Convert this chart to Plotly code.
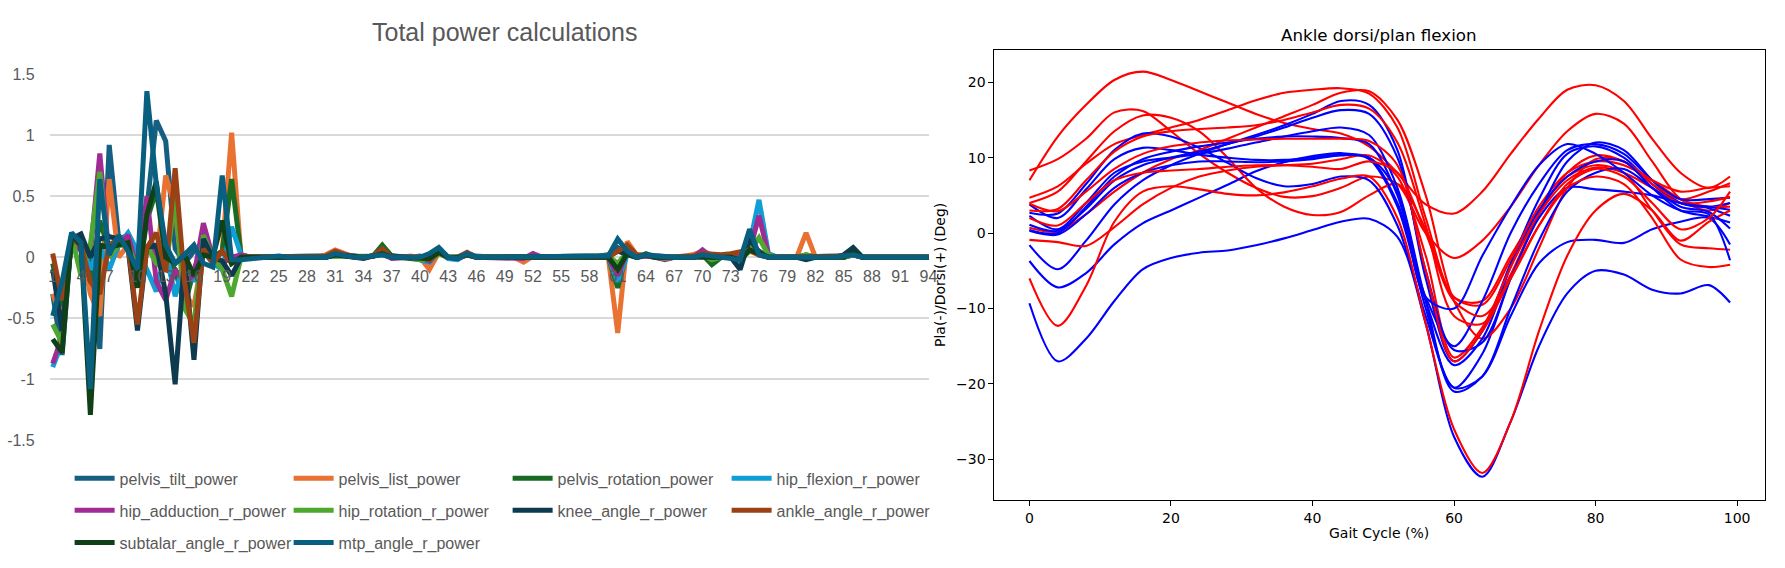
import plotly.graph_objects as go

W, H = 1785, 568

# ---------------- Left chart data (Excel style) ----------------
CATEGORIES = list(range(1, 101))
X_TICK_START = 1
X_TICK_STEP = 3
Y_TICK_VALUES = [-1.5, -1, -0.5, 0, 0.5, 1, 1.5]
Y_TICK_LABELS = ["-1.5", "-1", "-0.5", "0", "0.5", "1", "1.5"]

pelvis_tilt_power = [
    -0.30, -0.80, 0.18, 0.15, -0.05, -0.75, 0.92, 0.15, 0.18, -0.10,
    0.40, 1.12, 0.95, 0.07, -0.05, 0.05, 0.10, 0.00, -0.05, 0.00,
    0.00, 0.00, 0.00, 0.00, 0.01, 0.00, 0.00, 0.00, 0.00, 0.01,
    0.03, 0.02, 0.00, 0.00, 0.01, 0.03, 0.01, 0.00, 0.00, 0.01,
    -0.01, 0.05, 0.00, -0.01, 0.02, 0.00, 0.00, 0.00, 0.00, 0.00,
    0.00, 0.01, 0.00, 0.00, 0.01, 0.00, 0.00, 0.00, 0.01, 0.02,
    0.08, 0.03, 0.00, 0.02, 0.01, 0.00, 0.00, 0.00, 0.01, 0.03,
    0.00, 0.01, 0.00, -0.03, 0.10, 0.05, 0.00, 0.00, 0.00, 0.00,
    0.00, 0.00, 0.00, 0.00, 0.01, 0.02, 0.00, 0.00, 0.00, 0.00,
    0.00, 0.00, 0.00, 0.00, 0.00, 0.00, 0.00, 0.00, 0.00, 0.00,
]
pelvis_list_power = [
    -0.30, -0.50, 0.15, 0.10, -0.30, -0.48, 0.64, 0.00, 0.10, -0.20,
    0.10, -0.05, 0.67, 0.40, -0.30, -0.40, 0.05, 0.00, 0.05, 1.02,
    0.00, 0.00, 0.00, 0.00, 0.00, 0.01, 0.00, 0.00, 0.00, 0.02,
    0.06, 0.03, 0.00, 0.00, 0.01, 0.06, 0.00, 0.00, 0.01, 0.00,
    -0.10, 0.04, 0.00, -0.01, 0.03, 0.00, 0.00, 0.00, 0.00, 0.00,
    -0.04, 0.01, 0.00, 0.00, 0.00, 0.00, 0.00, 0.00, 0.00, 0.00,
    -0.62, 0.13, 0.02, 0.02, 0.01, -0.01, 0.00, 0.00, 0.02, 0.05,
    0.02, 0.01, 0.00, 0.02, 0.05, 0.02, 0.00, 0.00, 0.00, 0.00,
    0.20, 0.00, 0.00, 0.00, 0.00, 0.02, 0.00, 0.00, 0.00, 0.00,
    0.00, 0.00, 0.00, 0.00, 0.00, 0.00, 0.00, 0.00, 0.00, 0.00,
]
pelvis_rotation_power = [
    -0.05, -0.40, 0.18, 0.10, -0.20, 0.30, 0.05, 0.10, 0.10, -0.20,
    0.30, 0.55, 0.00, -0.10, -0.40, -0.10, 0.10, 0.00, 0.05, 0.64,
    0.02, 0.00, 0.00, 0.00, 0.00, 0.01, 0.00, 0.00, 0.00, 0.00,
    0.02, 0.01, 0.00, 0.00, 0.01, 0.10, 0.01, 0.00, 0.00, -0.02,
    -0.03, 0.05, 0.00, 0.00, 0.03, 0.00, 0.00, 0.00, 0.00, 0.00,
    0.00, 0.00, 0.00, 0.00, 0.00, 0.00, 0.00, 0.00, 0.00, 0.00,
    -0.25, 0.05, 0.00, 0.03, 0.00, -0.01, 0.00, 0.00, 0.00, 0.02,
    -0.06, 0.00, 0.00, 0.00, 0.08, 0.05, 0.00, 0.00, 0.00, 0.00,
    0.02, 0.00, 0.00, 0.00, 0.00, 0.03, 0.00, 0.00, 0.00, 0.00,
    0.00, 0.00, 0.00, 0.00, 0.00, 0.00, 0.00, 0.00, 0.00, 0.00,
]
hip_flexion_r_power = [
    -0.90, -0.70, 0.18, 0.12, -0.10, 0.10, -0.10, 0.10, 0.20, 0.05,
    -0.10, -0.28, 0.05, -0.32, 0.00, -0.20, 0.05, -0.05, -0.10, 0.25,
    0.02, 0.00, 0.00, 0.00, 0.01, 0.00, 0.00, 0.00, 0.00, 0.00,
    0.02, 0.01, 0.00, 0.00, 0.01, 0.02, 0.00, 0.00, 0.00, -0.02,
    -0.04, 0.04, -0.01, -0.02, 0.03, 0.01, 0.00, 0.00, 0.00, 0.00,
    0.00, 0.00, 0.00, 0.00, 0.00, 0.00, 0.00, 0.00, 0.00, 0.00,
    -0.20, 0.02, 0.00, 0.01, 0.00, -0.01, 0.00, 0.00, 0.00, 0.02,
    0.00, 0.00, 0.00, -0.05, 0.10, 0.47, 0.03, 0.00, 0.00, 0.00,
    0.00, 0.00, 0.00, 0.00, 0.00, 0.02, 0.00, 0.00, 0.00, 0.00,
    0.00, 0.00, 0.00, 0.00, 0.00, 0.00, 0.00, 0.00, 0.00, 0.00,
]
hip_adduction_r_power = [
    -0.87, -0.65, 0.15, 0.05, 0.03, 0.85, 0.00, 0.10, 0.18, -0.10,
    0.50, -0.20, -0.35, -0.10, -0.20, -0.15, 0.28, 0.00, -0.05, 0.00,
    0.02, 0.00, 0.00, 0.00, 0.00, 0.00, 0.00, 0.00, 0.00, 0.00,
    0.03, 0.02, 0.00, 0.00, 0.01, 0.03, -0.01, 0.00, 0.00, -0.01,
    -0.03, 0.04, 0.00, -0.01, 0.02, 0.00, 0.00, 0.00, 0.00, 0.00,
    -0.01, 0.03, 0.00, 0.00, 0.00, 0.00, 0.00, 0.00, 0.00, 0.00,
    -0.15, 0.05, 0.00, 0.01, 0.00, -0.02, 0.00, 0.00, 0.00, 0.06,
    0.00, 0.00, 0.00, 0.00, 0.05, 0.34, 0.02, 0.00, 0.00, 0.00,
    0.00, 0.00, 0.00, 0.00, 0.00, 0.02, 0.00, 0.00, 0.00, 0.00,
    0.00, 0.00, 0.00, 0.00, 0.00, 0.00, 0.00, 0.00, 0.00, 0.00,
]
hip_rotation_r_power = [
    -0.55, -0.70, 0.18, -0.15, 0.10, 0.70, 0.00, 0.10, 0.10, -0.10,
    0.10, -0.05, -0.10, 0.50, -0.42, -0.55, 0.18, 0.00, -0.10, -0.32,
    0.00, 0.00, 0.00, 0.00, 0.00, 0.00, 0.00, 0.00, 0.00, 0.00,
    0.01, 0.01, 0.00, 0.00, 0.01, 0.04, 0.00, 0.00, 0.00, -0.02,
    -0.02, 0.03, 0.00, 0.00, 0.02, 0.00, 0.00, 0.00, 0.00, 0.00,
    0.00, 0.00, 0.00, 0.00, 0.00, 0.00, 0.00, 0.00, 0.00, 0.01,
    -0.05, 0.04, 0.00, 0.02, 0.00, -0.01, 0.00, 0.00, 0.00, 0.02,
    -0.02, 0.00, 0.00, -0.02, 0.05, 0.16, 0.02, 0.00, 0.00, 0.00,
    0.02, 0.00, 0.00, 0.00, 0.00, 0.02, 0.00, 0.00, 0.00, 0.00,
    0.00, 0.00, 0.00, 0.00, 0.00, 0.00, 0.00, 0.00, 0.00, 0.00,
]
knee_angle_r_power = [
    -0.10, -0.60, 0.15, 0.19, 0.00, 0.15, 0.17, 0.15, 0.08, -0.60,
    0.08, 0.10, -0.30, -1.04, 0.00, -0.84, 0.15, 0.00, -0.03, -0.15,
    0.00, 0.00, 0.00, 0.00, 0.01, 0.00, 0.00, 0.00, 0.00, 0.00,
    0.02, 0.01, 0.00, -0.01, 0.01, 0.05, 0.01, 0.00, 0.00, 0.00,
    -0.02, 0.06, 0.00, -0.01, 0.03, 0.00, 0.00, 0.00, 0.00, 0.00,
    0.00, 0.00, 0.00, 0.00, 0.00, 0.00, 0.00, 0.00, 0.00, 0.01,
    0.05, 0.03, 0.00, 0.02, 0.00, 0.00, 0.00, 0.00, 0.00, 0.02,
    0.00, 0.00, 0.00, -0.10, 0.15, 0.04, 0.00, 0.00, 0.00, 0.00,
    -0.02, 0.00, 0.00, 0.00, 0.02, 0.08, 0.00, 0.00, 0.00, 0.00,
    0.00, 0.00, 0.00, 0.00, 0.00, 0.00, 0.00, 0.00, 0.00, 0.00,
]
ankle_angle_r_power = [
    0.03, -0.35, 0.15, 0.10, -0.20, -0.30, 0.10, 0.15, 0.10, -0.55,
    0.08, 0.20, -0.12, 0.73, -0.20, -0.70, 0.07, -0.05, 0.05, -0.05,
    0.00, 0.00, 0.00, 0.00, 0.00, 0.01, 0.00, 0.00, 0.00, 0.01,
    0.05, 0.02, 0.00, 0.00, 0.01, 0.07, 0.00, 0.00, 0.00, 0.00,
    -0.02, 0.04, 0.00, 0.00, 0.04, 0.00, 0.00, 0.00, 0.00, 0.00,
    0.00, 0.01, 0.00, 0.00, 0.00, 0.00, 0.00, 0.00, 0.00, 0.00,
    0.05, 0.10, 0.02, 0.01, 0.00, 0.00, 0.00, 0.00, 0.01, 0.03,
    0.02, 0.02, 0.03, 0.05, 0.06, 0.02, 0.00, 0.00, 0.00, 0.00,
    0.00, 0.00, 0.00, 0.00, 0.01, 0.03, 0.00, 0.00, 0.00, 0.00,
    0.00, 0.00, 0.00, 0.00, 0.00, 0.00, 0.00, 0.00, 0.00, 0.00,
]
subtalar_angle_r_power = [
    -0.67, -0.78, 0.18, 0.10, -1.29, 0.10, 0.08, 0.10, 0.12, -0.25,
    0.35, 0.62, 0.00, -0.05, 0.02, -0.15, 0.02, 0.00, 0.30, -0.05,
    0.00, 0.00, 0.00, 0.00, 0.00, 0.00, 0.00, 0.00, 0.00, 0.00,
    0.02, 0.01, 0.00, 0.00, 0.01, 0.03, 0.00, 0.00, 0.00, 0.00,
    -0.01, 0.04, 0.00, 0.00, 0.02, 0.00, 0.00, 0.00, 0.00, 0.00,
    0.00, 0.00, 0.00, 0.00, 0.00, 0.00, 0.00, 0.00, 0.00, 0.00,
    -0.10, 0.03, 0.00, 0.02, 0.00, 0.00, 0.00, 0.00, 0.00, 0.01,
    0.00, 0.00, 0.00, -0.02, 0.06, 0.03, 0.00, 0.00, 0.00, 0.00,
    0.00, 0.00, 0.00, 0.00, 0.00, 0.04, 0.00, 0.00, 0.00, 0.00,
    0.00, 0.00, 0.00, 0.00, 0.00, 0.00, 0.00, 0.00, 0.00, 0.00,
]
mtp_angle_r_power = [
    -0.48, -0.20, 0.20, 0.12, -1.08, 0.64, 0.02, 0.18, 0.05, -0.10,
    1.36, 0.60, 0.10, -0.05, 0.02, 0.10, -0.05, -0.08, 0.67, -0.02,
    -0.02, -0.01, -0.01, 0.00, 0.01, 0.00, 0.00, 0.00, 0.00, 0.00,
    0.03, 0.01, 0.00, 0.00, 0.01, 0.02, 0.00, 0.00, 0.01, 0.00,
    0.03, 0.08, 0.00, -0.01, 0.03, 0.00, 0.00, 0.00, 0.00, 0.00,
    0.00, 0.00, 0.00, 0.00, 0.01, 0.00, 0.00, 0.00, 0.00, 0.01,
    0.15, 0.05, 0.00, 0.02, 0.01, 0.00, 0.00, 0.00, 0.00, 0.02,
    0.01, 0.00, 0.00, -0.02, 0.23, 0.02, 0.00, 0.00, 0.00, 0.00,
    -0.01, 0.00, 0.00, 0.00, 0.01, 0.02, 0.00, 0.00, 0.00, 0.00,
    0.00, 0.00, 0.00, 0.00, 0.00, 0.00, 0.00, 0.00, 0.00, 0.00,
]

SERIES_NAMES = [
    "pelvis_tilt_power", "pelvis_list_power", "pelvis_rotation_power", "hip_flexion_r_power",
    "hip_adduction_r_power", "hip_rotation_r_power", "knee_angle_r_power", "ankle_angle_r_power",
    "subtalar_angle_r_power", "mtp_angle_r_power",
]
SERIES_VALUES = [
    pelvis_tilt_power, pelvis_list_power, pelvis_rotation_power, hip_flexion_r_power,
    hip_adduction_r_power, hip_rotation_r_power, knee_angle_r_power, ankle_angle_r_power,
    subtalar_angle_r_power, mtp_angle_r_power,
]
SERIES_COLORS = [
    "#156082", "#E97132", "#196B24", "#0F9ED5", "#A02B93",
    "#4EA72E", "#0D3A4E", "#9A4215", "#0F4016", "#095F80",
]
LEGEND_ROWS = ["legend", "legend", "legend", "legend",
               "legend2", "legend2", "legend2", "legend2",
               "legend3", "legend3"]

# ---------------- Right chart data (matplotlib style) ----------------
GAIT_CYCLE = [0, 4, 8, 12, 16, 20, 24, 28, 32, 36, 40, 44, 48, 52, 56, 60, 64, 68, 72, 76, 80, 84, 88, 92, 96, 99]
GAIT_X_TICKS = [0, 20, 40, 60, 80, 100]
GAIT_Y_TICKS = [-30, -20, -10, 0, 10, 20]

red_1 = [7.0, 12.8, 17.0, 20.3, 21.4, 20.3, 18.8, 17.3, 15.8, 14.6, 13.8, 13.2, 11.5, 8.0, 3.8, 2.6, 5.5, 10.5, 15.2, 19.0, 19.6, 17.5, 12.5, 8.0, 6.0, 7.5]
red_2 = [8.3, 9.8, 12.5, 16.0, 16.2, 13.5, 10.5, 8.0, 6.0, 4.8, 4.9, 6.0, 7.5, 6.5, 0.0, -3.3, -1.0, 3.5, 9.0, 13.5, 15.8, 14.5, 9.5, 4.5, 3.0, 4.0]
red_3 = [4.0, 5.5, 9.5, 13.5, 15.6, 15.3, 13.5, 10.0, 6.0, 3.5, 2.4, 2.8, 5.0, 6.5, 0.5, -8.5, -9.0, -3.0, 3.0, 7.5, 9.0, 8.0, 3.0, -1.5, -2.0, -2.2]
red_4 = [4.7, 6.2, 9.2, 11.8, 13.0, 14.0, 15.0, 16.3, 17.6, 18.6, 19.0, 19.2, 18.5, 14.0, 2.0, -8.5, -9.5, -3.5, 3.5, 8.0, 9.5, 9.0, 7.0, 4.5, 3.5, 3.5]
red_5 = [0.7, 0.2, 2.5, 5.5, 8.0, 9.8, 11.0, 12.5, 14.0, 15.5, 17.0, 18.6, 18.8, 15.0, 5.0, -9.0, -14.0, -10.0, -2.0, 6.0, 9.8, 9.5, 6.5, 4.5, 5.5, 6.6]
red_6 = [3.0, 3.2, 7.0, 10.8, 12.8, 13.5, 13.8, 14.0, 14.3, 15.0, 16.0, 17.0, 16.5, 12.0, 1.0, -11.0, -12.0, -5.5, 2.5, 8.0, 10.3, 9.5, 7.0, 5.5, 6.0, 6.2]
red_7 = [-0.9, -1.2, -1.7, 0.8, 3.8, 6.0, 7.5, 8.3, 8.8, 9.0, 9.2, 9.8, 10.3, 7.5, -3.0, -16.5, -12.5, -4.5, 2.5, 7.0, 8.7, 8.0, 6.0, 4.0, 4.2, 4.8]
red_8 = [-6.0, -12.3, -7.0, 1.5, 5.5, 6.2, 5.8, 5.2, 5.0, 5.4, 6.2, 7.2, 7.5, 2.0, -12.0, -26.0, -31.8, -25.0, -13.0, -3.0, 3.0, 5.2, 3.0, -1.0, 1.5, 3.0]
red_9 = [3.9, 2.9, 5.5, 8.5, 10.5, 11.5, 12.0, 12.3, 12.4, 12.5, 12.5, 12.5, 12.2, 9.0, -5.0, -17.0, -13.0, -6.0, 1.0, 6.0, 7.5, 6.5, 2.0, -3.5, -4.5, -4.2]
red_10 = [2.0, 1.0, 4.0, 7.0, 8.0, 8.3, 8.5, 8.8, 9.0, 9.0, 8.8, 8.5, 9.5, 8.0, 0.0, -9.0, -11.0, -6.0, 1.0, 6.5, 8.5, 7.5, 4.0, 0.5, 2.0, 5.5]

blue_1 = [-9.3, -17.0, -14.0, -9.0, -4.8, -3.3, -2.6, -2.3, -1.6, -0.7, 0.4, 1.5, 1.9, -0.5, -12.0, -27.0, -32.3, -25.0, -15.0, -8.0, -5.0, -5.5, -7.5, -8.0, -6.9, -9.2]
blue_2 = [-3.7, -7.2, -5.3, -1.5, 1.3, 3.0, 4.7, 6.4, 8.2, 9.4, 10.2, 10.6, 9.8, 3.5, -10.0, -20.5, -19.0, -11.0, -4.0, -1.2, -0.9, -1.3, 0.5, 1.5, 2.0, -1.5]
blue_3 = [-1.6, -4.8, -1.0, 3.8, 7.0, 9.0, 10.5, 11.8, 13.0, 14.3, 15.8, 17.5, 17.0, 11.0, -6.0, -17.0, -13.0, -4.0, 4.5, 10.5, 11.5, 10.0, 6.5, 4.0, 3.5, 4.0]
blue_4 = [2.7, 2.6, 6.5, 11.0, 13.2, 12.8, 11.3, 9.3, 7.3, 6.2, 6.5, 7.5, 7.0, 1.0, -11.0, -20.5, -16.0, -6.0, 2.5, 9.5, 12.0, 11.0, 7.0, 4.0, 3.5, 3.1]
blue_5 = [3.8, 2.0, 5.8, 9.8, 11.3, 11.0, 10.4, 10.0, 9.7, 9.7, 10.0, 10.4, 10.0, 4.0, -8.5, -15.0, -9.0, 0.0, 6.5, 11.0, 11.8, 10.5, 7.0, 4.5, 4.5, 4.7]
blue_6 = [0.4, 0.0, 3.5, 7.5, 9.8, 10.8, 11.5, 12.0, 12.5, 12.8, 12.8, 12.6, 11.8, 5.0, -9.0, -17.5, -14.0, -4.5, 3.0, 7.5, 9.5, 9.5, 6.0, 3.0, 2.2, 1.4]
blue_7 = [1.1, 0.3, 3.2, 7.0, 9.0, 10.0, 10.8, 11.8, 12.8, 14.0, 15.3, 16.3, 15.8, 10.0, -5.0, -15.5, -14.5, -6.0, 2.0, 6.0, 5.8, 5.5, 5.0, 4.0, 3.3, 2.3]
blue_8 = [2.3, 0.5, 4.0, 8.0, 9.5, 10.0, 10.5, 11.2, 12.0, 12.8, 13.5, 14.0, 13.0, 6.0, -9.0, -21.0, -19.0, -10.0, -1.0, 5.5, 8.0, 8.5, 6.0, 3.5, 2.8, 0.6]
blue_9 = [0.3, -0.2, 2.5, 6.0, 8.0, 9.0, 9.5, 9.5, 9.4, 9.5, 9.8, 10.3, 10.0, 5.5, -8.5, -10.0, -3.0, 3.5, 9.0, 11.8, 10.5, 8.0, 5.0, 3.0, 2.5, -3.6]

RED_CURVES = [red_1, red_2, red_3, red_4, red_5, red_6, red_7, red_8, red_9, red_10]
BLUE_CURVES = [blue_1, blue_2, blue_3, blue_4, blue_5, blue_6, blue_7, blue_8, blue_9]


def px_x(p):
    return p / W


def px_y(p):
    return 1 - p / H


fig = go.Figure()

# Left chart traces
for name, vals, col, leg in zip(SERIES_NAMES, SERIES_VALUES, SERIES_COLORS, LEGEND_ROWS):
    fig.add_trace(go.Scatter(
        x=CATEGORIES, y=vals, mode="lines", name=name,
        line=dict(color=col, width=5),
        xaxis="x", yaxis="y", legend=leg, hoverinfo="skip",
    ))

# Right chart traces (interleaved red / blue)
order = []
for i in range(max(len(RED_CURVES), len(BLUE_CURVES))):
    if i < len(RED_CURVES):
        order.append((RED_CURVES[i], "#FF0000"))
    if i < len(BLUE_CURVES):
        order.append((BLUE_CURVES[i], "#0000FF"))
for vals, col in order:
    fig.add_trace(go.Scatter(
        x=GAIT_CYCLE, y=vals, mode="lines",
        line=dict(color=col, width=2.1, shape="spline", smoothing=0.9),
        xaxis="x2", yaxis="y2", showlegend=False, hoverinfo="skip",
    ))

EXCEL_FONT = "Liberation Sans, Arial, sans-serif"
MPL_FONT = "DejaVu Sans, sans-serif"
GRAY = "#595959"

legend_common = dict(
    orientation="h", xanchor="left", yanchor="middle",
    font=dict(family=EXCEL_FONT, size=16, color=GRAY),
    itemwidth=40,
    entrywidth=164, entrywidthmode="pixels",
    bgcolor="rgba(0,0,0,0)", borderwidth=0,
)

fig.update_layout(
    width=W, height=H,
    margin=dict(l=0, r=0, t=0, b=0),
    paper_bgcolor="white", plot_bgcolor="white",
    showlegend=True,
    legend=dict(**legend_common, x=px_x(69), y=px_y(484)),
    legend2=dict(**legend_common, x=px_x(69), y=px_y(517)),
    legend3=dict(**legend_common, x=px_x(69), y=px_y(550)),
    xaxis=dict(
        domain=[px_x(49), px_x(933)],
        range=[0.683, 94.03],
        anchor="free", position=px_y(256),
        tickmode="linear", tick0=X_TICK_START, dtick=X_TICK_STEP,
        showgrid=False, zeroline=False, showline=False,
        ticks="", ticklabelstandoff=8,
        tickfont=dict(family=EXCEL_FONT, size=16, color=GRAY),
    ),
    yaxis=dict(
        domain=[px_y(445.4), px_y(67.6)],
        range=[-1.503, 1.503],
        anchor="x",
        tickmode="array", tickvals=Y_TICK_VALUES, ticktext=Y_TICK_LABELS,
        showgrid=True, gridcolor="#D9D9D9", gridwidth=1.5,
        zeroline=False, showline=False,
        ticks="", ticklabelstandoff=14,
        tickfont=dict(family=EXCEL_FONT, size=16, color=GRAY),
    ),
    xaxis2=dict(
        domain=[px_x(999), px_x(1774)],
        range=[-4.95, 103.95],
        anchor="y2",
        tickmode="array", tickvals=GAIT_X_TICKS,
        showgrid=False, zeroline=False,
        showline=True, linecolor="black", linewidth=1.1, mirror=True,
        ticks="outside", ticklen=5, tickwidth=1.1, tickcolor="black",
        tickfont=dict(family=MPL_FONT, size=14, color="black"),
    ),
    yaxis2=dict(
        domain=[px_y(506), px_y(43)],
        range=[-35.35, 24.3],
        anchor="x2",
        tickmode="array", tickvals=GAIT_Y_TICKS,
        showgrid=False, zeroline=False,
        showline=True, linecolor="black", linewidth=1.1, mirror=True,
        ticks="outside", ticklen=5, tickwidth=1.1, tickcolor="black",
        tickfont=dict(family=MPL_FONT, size=14, color="black"),
    ),
    annotations=[
        dict(text="Total power calculations", x=px_x(506), y=px_y(25), xref="paper", yref="paper",
             xanchor="center", yanchor="middle", showarrow=False,
             font=dict(family=EXCEL_FONT, size=25, color=GRAY)),
        dict(text="Ankle dorsi/plan flexion", x=px_x(1386), y=px_y(28), xref="paper", yref="paper",
             xanchor="center", yanchor="middle", showarrow=False,
             font=dict(family=MPL_FONT, size=16.7, color="black")),
        dict(text="Gait Cycle (%)", x=px_x(1386), y=px_y(540), xref="paper", yref="paper",
             xanchor="center", yanchor="middle", showarrow=False,
             font=dict(family=MPL_FONT, size=14, color="black")),
        dict(text="Pla(-)/Dorsi(+) (Deg)", x=px_x(945), y=px_y(275), xref="paper", yref="paper",
             xanchor="center", yanchor="middle", showarrow=False, textangle=-90,
             font=dict(family=MPL_FONT, size=14, color="black")),
    ],
)

fig.write_html("out.html", config={"displayModeBar": False})
